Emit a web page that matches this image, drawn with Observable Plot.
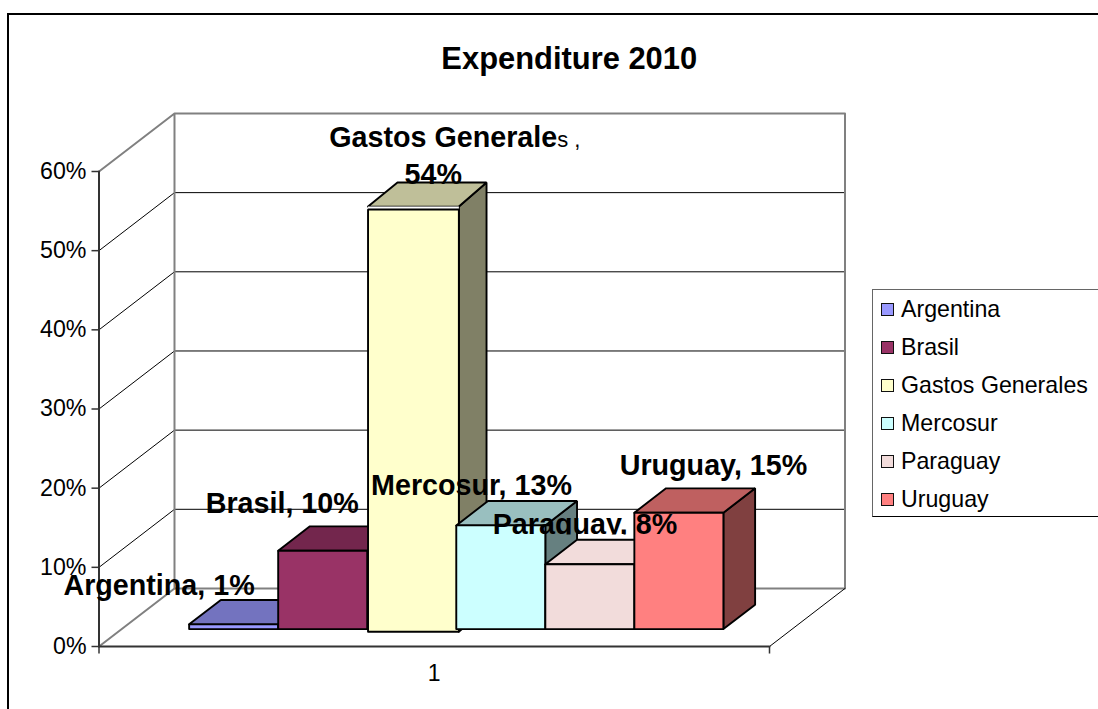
<!DOCTYPE html>
<html><head><meta charset="utf-8">
<script src="https://cdn.jsdelivr.net/npm/d3@7"></script>
<script src="https://cdn.jsdelivr.net/npm/@observablehq/plot@0.6"></script>
<style>
html,body{margin:0;padding:0;background:#fff;overflow:hidden}
#wrap{position:relative;width:1098px;height:709px;font-family:"Liberation Sans",Arial,sans-serif}
#frame{position:absolute;left:7px;top:13px;width:1091px;height:696px;border-left:2.5px solid #000;border-top:2.5px solid #000;box-sizing:border-box}
#legend{position:absolute;left:872px;top:289px;width:226px;height:228px;box-sizing:border-box;border-left:1px solid #666;border-top:1px solid #666;border-bottom:1.5px solid #000;background:#fff}
.row{position:absolute;left:8px;display:flex;align-items:center;height:24px;font-size:23.2px;color:#000;white-space:nowrap}
.sw{width:11px;height:11px;border:1.5px solid #111;margin-right:7px;flex:none}
svg{position:absolute;left:0;top:0;background:transparent}
</style></head>
<body><div id="wrap"><div id="frame"></div><div id="chart"></div><div id="legend"></div></div>
<script>
const categories = ["Argentina","Brasil","Gastos Generales","Mercosur","Paraguay","Uruguay"];
const values = [0.6, 9.9, 53.7, 13.1, 8.2, 14.7];
const shownLabels = ["1%","10%","54%","13%","8%","15%"];
const frontColors = ["#9999FF","#993366","#FFFFCC","#CCFFFF","#F2DCDB","#FF8080"];
const topColors = ["#7373BF","#73264D","#BFBF99","#99BFBF","#F2DCDB","#BF6060"];
const sideColors = ["#4D4D80","#4D1A33","#808066","#668080","#796E6E","#804040"];
const yTicks = [0,10,20,30,40,50,60];

// Projection of the oblique 3D box: depth d in 0..1 shifts along x and y (in scale units)
const depthX = 0.8445, depthY = 7.33;
const P = (x, v, d) => [x + d*depthX, v + d*depthY];
const nX = 7.5;
const barStart = 0.755, barWidth = 0.996, dFront = 0.30, dBack = 0.72;

function box(i){
  const x0 = barStart + i*barWidth;
  const v = values[i];
  const exploded = i === 2;          // the pulled-out bar sits slightly forward
  const f = exploded ? 0.255 : dFront;
  const b = exploded ? 0.67 : dBack;
  const vf = exploded ? v - 0.37 : v;
  const fx0 = exploded ? x0 + 0.047 : x0, fx1 = fx0 + (exploded ? barWidth + 0.02 : barWidth);
  const bx0 = exploded ? x0 + 0.026 : x0, bx1 = bx0 + barWidth;
  const front = [P(fx0,0,f),P(fx1,0,f),P(fx1,vf,f),P(fx0,vf,f),P(fx0,0,f)];
  const top = [P(fx0,v,f),P(fx1,v,f),P(bx1,v,b),P(bx0,v,b),P(fx0,v,f)];
  const side = [P(fx1,0,f),P(bx1,0,b),P(bx1,v,b),P(fx1,v,f),P(fx1,0,f)];
  const S = {stroke:"#000", strokeWidth:1.9, strokeLinejoin:"miter"};
  const marks = [
    Plot.line(side,{fill:sideColors[i],...S}),
    Plot.line(top,{fill:topColors[i],...S})
  ];
  if (exploded) marks.push(Plot.line([P(fx0,v,f),P(fx1,v,f),P(fx1,vf,f),P(fx0,vf,f),P(fx0,v,f)],{fill:"#fff"}));
  marks.push(Plot.line(front,{fill:frontColors[i],...S}));
  return marks;
}
const center = i => barStart + (i+0.5)*barWidth;
const fp = i => P(center(i), values[i], dFront);
const bold = {fontSize:28.7, fontWeight:"bold", fill:"#000", fontFamily:"Liberation Sans"};
const lab = (i,dx,dy,extra={}) => Plot.text([fp(i)],{text:()=>`${categories[i]}, ${shownLabels[i]}`,dx,dy,...bold,...extra});

// Paraguay's label is cut off under its baseline in the reference
const clipped = lab(4,-4.9,-39.3,{render(index,scales,vals,dims,ctx,next){
  const g = next(index,scales,vals,dims,ctx);
  const wrapper = d3.create("svg:g");
  const id = "parClip";
  wrapper.append("clipPath").attr("id",id).append("rect")
    .attr("x",0).attr("y",0).attr("width",1098).attr("height",534.5);
  wrapper.attr("clip-path",`url(#${id})`);
  wrapper.node().appendChild(g);
  return wrapper.node();
}});

const gray = {stroke:"#808080", strokeWidth:2};
const thin = {stroke:"#000", strokeWidth:1};
const dark = {stroke:"#333", strokeWidth:2};

const plot = Plot.plot({
  width:1098, height:709, marginLeft:98.5, marginTop:171, marginBottom:63, marginRight:329,
  style:{background:"transparent",fontFamily:"Liberation Sans",color:"#000",overflow:"visible"},
  x:{domain:[0,nX],range:[98.5,769],axis:null},
  y:{domain:[0,60],range:[646,171],axis:null},
  marks:[
    ...yTicks.slice(1,-1).flatMap(v=>[
      Plot.line([P(0,v,0),P(0,v,1)],thin),
      Plot.line([P(0,v,1),P(nX,v,1)],thin)
    ]),
    Plot.line([P(0,60,0),P(0,60,1),P(nX,60,1),P(nX,0,1),P(0,0,1),P(0,60,1)],gray),
    Plot.line([P(0,0,0),P(0,0,1)],gray),
    Plot.line([P(nX,0,0),P(nX,0,1)],thin),
    Plot.ruleX([0,nX],{y1:0,y2:-0.95,...dark,strokeWidth:1.5}),
    Plot.line([P(0,0,0),P(nX,0,0)],dark),
    Plot.line([P(0,0,0),P(0,60,0)],dark),
    Plot.axisY({ticks:yTicks,anchor:"left",tickSize:7,tickPadding:5.5,tickFormat:d=>d+"%",fontSize:23.2,label:null,stroke:"#333",strokeWidth:1.5,fill:"#000"}),
    Plot.axisX({ticks:[nX/2],anchor:"bottom",tickSize:0,tickPadding:18.5,tickFormat:()=>"1",fontSize:23,label:null,fill:"#000"}),
    ...categories.flatMap((c,i)=>box(i)),
    lab(0,-74.6,-39),
    lab(1,-40.5,-47),
    Plot.text([fp(2)],{text:()=>"Gastos Generale",textAnchor:"end",dx:145.5,dy:-66,...bold}),
    Plot.text([fp(2)],{text:()=>"s ,",textAnchor:"start",dx:145.5,dy:-64,fontSize:22,fill:"#000",fontFamily:"Liberation Sans"}),
    Plot.text([fp(2)],{text:()=>"54%",dx:21.5,dy:-29,...bold}),
    lab(3,-29.3,-40),
    clipped,
    lab(5,34.6,-47.4),
    Plot.text([[nX/2,60]],{text:()=>"Expenditure 2010",dx:135,dy:-112,fontSize:30.9,fontWeight:"bold",fill:"#000",fontFamily:"Liberation Sans"})
  ]
});
document.getElementById("chart").appendChild(plot);

const legend = d3.select("#legend");
const rowY = [7,45,83,121,159,197];
categories.forEach((c,i)=>{
  const r = legend.append("div").attr("class","row").style("top",rowY[i]+"px");
  r.append("div").attr("class","sw").style("background",frontColors[i]);
  r.append("span").text(c);
});
</script></body></html>
